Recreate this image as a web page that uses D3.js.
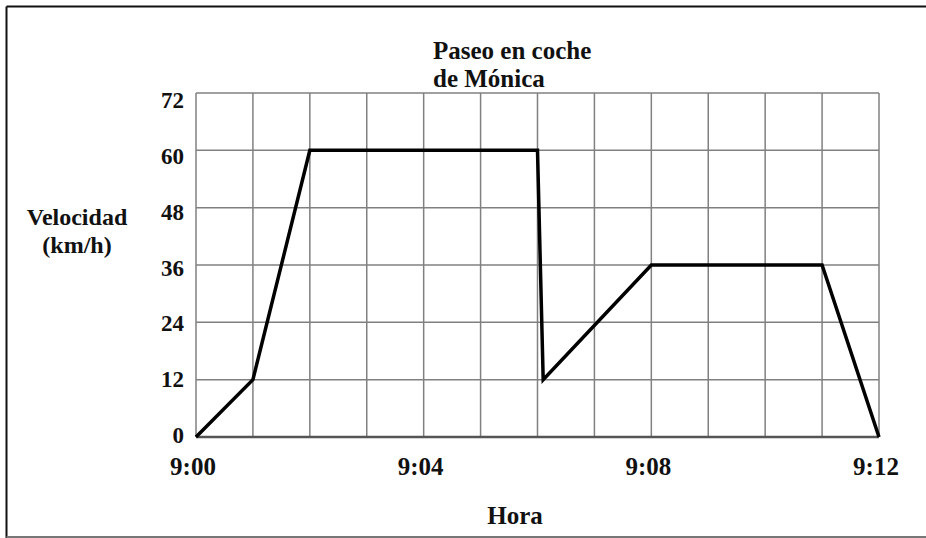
<!DOCTYPE html>
<html>
<head>
<meta charset="utf-8">
<script src="https://cdn.jsdelivr.net/npm/d3@7"></script>
<style>
  html, body { margin: 0; padding: 0; background: #fff; }
  svg { display: block; }
</style>
</head>
<body>
<svg id="chart" width="926" height="538"></svg>
<script>
// Minutes after 9:00 and the car's speed at each moment
const minutes = [0, 1, 2, 6, 6.1, 8, 11, 12];
const speeds  = [0, 12, 60, 60, 12, 36, 36, 0];

// Axis ticks
const xGridMinutes = d3.range(0, 13);
const xTickMinutes = [0, 4, 8, 12];
const xTickLabels  = ["9:00", "9:04", "9:08", "9:12"];
const yTicks       = [0, 12, 24, 36, 48, 60, 72];

const titleLines = ["Paseo en coche", "de Mónica"];
const yTitleLines = ["Velocidad", "(km/h)"];
const xTitle = "Hora";

const FONT = "'Times New Roman', 'Liberation Serif', 'DejaVu Serif', serif";

const svg = d3.select("#chart");

const x = d3.scaleLinear().domain([0, 12]).range([196, 879]);
const y = d3.scaleLinear().domain([0, 72]).range([437, 93]);
// tick numbers sit slightly tighter than the grid rows
const yLabel = d3.scaleLinear().domain([0, 72]).range([443, 108]);

// frame around the figure
svg.append("line").attr("x1", 6.5).attr("x2", 926).attr("y1", 6.5).attr("y2", 6.5)
  .attr("stroke", "#111").attr("stroke-width", 2);
svg.append("line").attr("x1", 6.5).attr("x2", 6.5).attr("y1", 6.5).attr("y2", 538)
  .attr("stroke", "#111").attr("stroke-width", 2);
svg.append("line").attr("x1", 6.5).attr("x2", 926).attr("y1", 537).attr("y2", 537)
  .attr("stroke", "#777").attr("stroke-width", 2);

// grid
const grid = svg.append("g").attr("stroke", "#808080").attr("stroke-width", 1.5);
grid.selectAll("line.v").data(xGridMinutes).join("line")
  .attr("class", "v")
  .attr("x1", d => x(d)).attr("x2", d => x(d))
  .attr("y1", y(72)).attr("y2", y(0));
grid.selectAll("line.h").data(yTicks).join("line")
  .attr("class", "h")
  .attr("x1", x(0)).attr("x2", x(12))
  .attr("y1", d => y(d)).attr("y2", d => y(d));

// baseline of the time axis
svg.append("line").attr("x1", x(0)).attr("x2", x(12)).attr("y1", y(0)).attr("y2", y(0))
  .attr("stroke", "#555").attr("stroke-width", 2.5);

// speed line
const pts = minutes.map((m, i) => [m, speeds[i]]);
svg.append("path")
  .datum(pts)
  .attr("fill", "none")
  .attr("stroke", "#000")
  .attr("stroke-width", 3.5)
  .attr("stroke-linejoin", "miter")
  .attr("d", d3.line().x(d => x(d[0])).y(d => y(d[1])));

const txt = svg.append("g")
  .style("font-family", FONT)
  .style("font-weight", "700")
  .attr("fill", "#111");

// y tick labels
txt.selectAll("text.ytick").data(yTicks).join("text")
  .attr("class", "ytick")
  .attr("x", 184)
  .attr("y", d => yLabel(d))
  .attr("text-anchor", "end")
  .attr("font-size", 23)
  .text(d => d);

// x tick labels
txt.selectAll("text.xtick").data(xTickMinutes).join("text")
  .attr("class", "xtick")
  .attr("x", d => x(d) - 3)
  .attr("y", 475)
  .attr("text-anchor", "middle")
  .attr("font-size", 25)
  .text((d, i) => xTickLabels[i]);

// title
txt.selectAll("text.title").data(titleLines).join("text")
  .attr("class", "title")
  .attr("x", 433)
  .attr("y", (d, i) => 59 + i * 28)
  .attr("font-size", 25)
  .text(d => d);

// axis titles
txt.selectAll("text.ytitle").data(yTitleLines).join("text")
  .attr("class", "ytitle")
  .attr("x", 77)
  .attr("y", (d, i) => 225 + i * 28)
  .attr("text-anchor", "middle")
  .attr("font-size", 24)
  .text(d => d);

txt.append("text")
  .attr("x", 515)
  .attr("y", 524)
  .attr("text-anchor", "middle")
  .attr("font-size", 25)
  .text(xTitle);
</script>
</body>
</html>
